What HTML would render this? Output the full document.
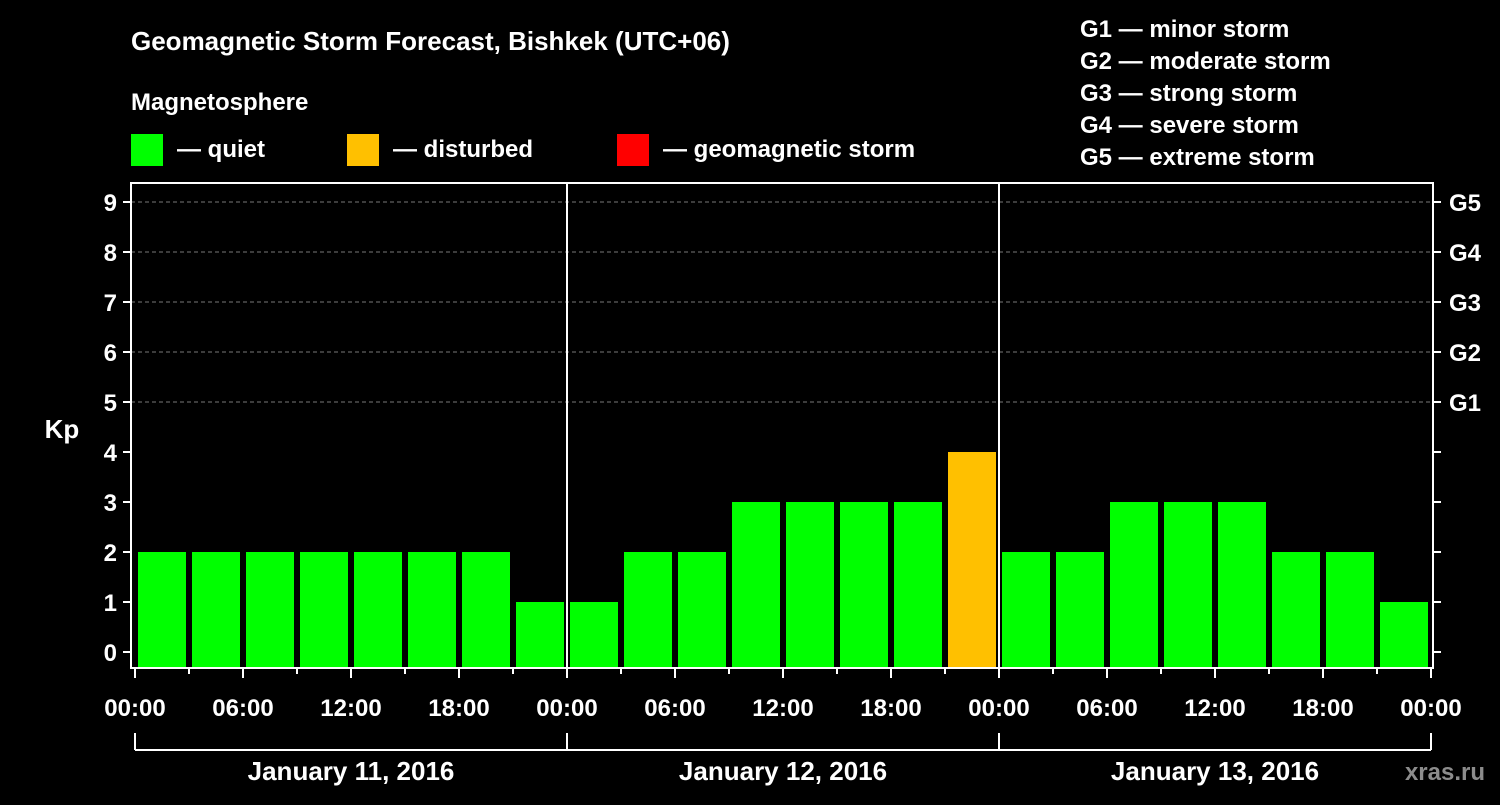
<!DOCTYPE html>
<html><head><meta charset="utf-8"><style>
html,body{margin:0;padding:0;background:#000;}
svg text{font-family:"Liberation Sans",sans-serif;font-weight:bold;fill:#fff;}
</style></head><body>
<svg width="1500" height="800" viewBox="0 0 1500 800">
<rect width="1500" height="800" fill="#000"/>
<text x="131" y="50" font-size="26">Geomagnetic Storm Forecast, Bishkek (UTC+06)</text>
<text x="131" y="110" font-size="24">Magnetosphere</text>
<g>
<rect x="131" y="134" width="32" height="32" fill="#00ff00"/>
<text x="177" y="157" font-size="24">— quiet</text>
<rect x="347" y="134" width="32" height="32" fill="#ffc000"/>
<text x="393" y="157" font-size="24">— disturbed</text>
<rect x="617" y="134" width="32" height="32" fill="#ff0000"/>
<text x="663" y="157" font-size="24">— geomagnetic storm</text>
</g>
<g font-size="24">
<text x="1080" y="37">G1 — minor storm</text>
<text x="1080" y="69">G2 — moderate storm</text>
<text x="1080" y="101">G3 — strong storm</text>
<text x="1080" y="133">G4 — severe storm</text>
<text x="1080" y="165">G5 — extreme storm</text>
</g>
<text x="62" y="438" font-size="26" text-anchor="middle">Kp</text>
<g id="plot"></g>
<text x="1485" y="780" font-size="24" text-anchor="end" fill="#888" style="fill:#8c8c8c">xras.ru</text>
</svg>
<script>
const kpValues=[2,2,2,2,2,2,2,1, 1,2,2,3,3,3,3,4, 2,2,3,3,3,2,2,1];
const yTicks=[0,1,2,3,4,5,6,7,8,9];
const gLabels=["G1","G2","G3","G4","G5"];
const hourLabels=["00:00","06:00","12:00","18:00"];
const dayLabels=["January 11, 2016","January 12, 2016","January 13, 2016"];

const NS="http://www.w3.org/2000/svg";
const g=document.getElementById('plot');
const X0=135, SLOT=54, Y0=652, UNIT=50;
const L=131,R=1433,T=183,B=668;
const xs=i=>X0+i*SLOT;
const ys=v=>Y0-v*UNIT;
function mk(tag,a){const e=document.createElementNS(NS,tag);for(const k in a)e.setAttribute(k,a[k]);g.appendChild(e);return e;}
// gridlines
yTicks.forEach(v=>{
  if(v>=5){const l=mk('line',{x1:L,x2:R,y1:ys(v),y2:ys(v),stroke:'#777','stroke-dasharray':'4,3','stroke-width':1});
  
  }
  const t=mk('line',{x1:L-8,x2:L,y1:ys(v),y2:ys(v),stroke:'#fff','stroke-width':2});
  
  
  const t2=mk('line',{x1:R,x2:R+8,y1:ys(v),y2:ys(v),stroke:'#fff','stroke-width':2});
  
  
  const tx=mk('text',{x:L-14,y:ys(v)+9,'font-size':24,'text-anchor':'end'});tx.textContent=v;
  
  
});
gLabels.forEach((s,i)=>{
  const tx=mk('text',{x:R+16,y:ys(5+i)+9,'font-size':24});tx.textContent=s;
  
  
});
// bars
kpValues.forEach((v,i)=>{
  const c=v>=5?'#ff0000':(v>=4?'#ffc000':'#00ff00');
  const r=mk('rect',{x:xs(i)+3,y:ys(v),width:48,height:B-ys(v),fill:c});
  
  
});
// day separators
for(let d=1;d<dayLabels.length;d++){
  const l=mk('line',{x1:xs(d*8),x2:xs(d*8),y1:T,y2:B,stroke:'#fff','stroke-width':2});
  
  
}
// frame
const f=mk('rect',{x:L,y:T,width:R-L,height:B-T,fill:'none',stroke:'#fff','stroke-width':2});


// x ticks
for(let i=0;i<=kpValues.length;i++){
  const major=i%2===0;
  const t=mk('line',{x1:xs(i),x2:xs(i),y1:B,y2:B+(major?10:6),stroke:'#fff','stroke-width':2});
  
  
  if(major){const tx=mk('text',{x:xs(i),y:716,'font-size':24,'text-anchor':'middle'});
  tx.textContent=hourLabels[(i/2)%4];
  
  }
}
// day brackets
const bl=mk('line',{x1:xs(0),x2:xs(kpValues.length),y1:750,y2:750,stroke:'#fff','stroke-width':2});


for(let d=0;d<=dayLabels.length;d++){
  const l=mk('line',{x1:xs(d*8),x2:xs(d*8),y1:733,y2:750,stroke:'#fff','stroke-width':2});
  
  
}
dayLabels.forEach((s,d)=>{
  const tx=mk('text',{x:xs(d*8+4),y:780,'font-size':26,'text-anchor':'middle'});tx.textContent=s;
  
  
});
</script>
</body></html>
